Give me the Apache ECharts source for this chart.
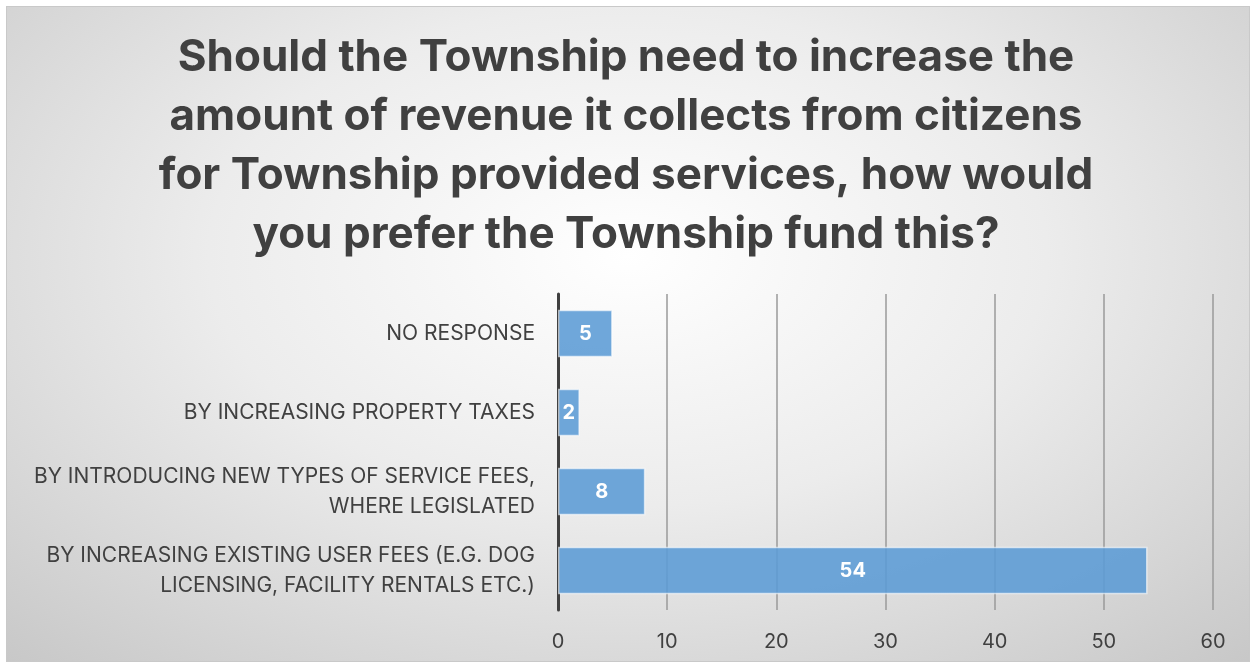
<!DOCTYPE html>
<html><head><meta charset="utf-8">
<script src="https://cdn.jsdelivr.net/npm/echarts@6/dist/echarts.min.js"></script>
<style>
html,body{margin:0;padding:0;background:#fff;}
#frame{position:absolute;left:6px;top:6px;width:1242px;height:654px;border:1px solid #c9c9c9;
background:radial-gradient(ellipse 75% 85% at 50% 38%, #ffffff 0%, #ececec 45%, #c7c7c7 100%);}
#chart{position:absolute;left:0;top:0;width:1252px;height:667px;}
</style></head>
<body>
<div id="frame"></div>
<div id="chart"></div>
<script>
const titleText = "Should the Township need to increase the\namount of revenue it collects from citizens\nfor Township provided services, how would\nyou prefer the Township fund this?";
const categories = [
  "NO RESPONSE",
  "BY INCREASING PROPERTY TAXES",
  "BY INTRODUCING NEW TYPES OF SERVICE FEES,\nWHERE LEGISLATED",
  "BY INCREASING EXISTING USER FEES (E.G. DOG\nLICENSING, FACILITY RENTALS ETC.)"
];
const values = [5, 2, 8, 54];
const xTicks = {min: 0, max: 60, interval: 10};

const chart = echarts.init(document.getElementById('chart'), null, {renderer: 'canvas'});
chart.setOption({
  backgroundColor: 'transparent',
  animation: false,
  title: {
    text: titleText,
    left: 'center',
    top: 23,
    textStyle: {fontFamily: 'Inter', fontWeight: 'bold', fontSize: 44, lineHeight: 59, color: '#404040'}
  },
  grid: {left: 558, right: 39, top: 294, bottom: 57, containLabel: false},
  xAxis: {
    type: 'value', min: xTicks.min, max: xTicks.max, interval: xTicks.interval,
    axisLine: {show: false}, axisTick: {show: false},
    axisLabel: {color: '#404040', fontSize: 20, fontFamily: 'Inter', margin: 22},
    splitLine: {show: true, lineStyle: {color: '#9a9a9a', width: 1.5}}
  },
  yAxis: {
    type: 'category', data: categories, inverse: true,
    axisLine: {show: true, lineStyle: {color: '#404040', width: 3}},
    axisTick: {show: false},
    axisLabel: {color: '#404040', fontSize: 21, fontFamily: 'Inter', lineHeight: 30, margin: 23, align: 'right'}
  },
  series: [{
    type: 'bar', data: values, barWidth: '60%',
    itemStyle: {color: 'rgba(91,155,213,0.88)', borderColor: 'rgba(255,255,255,0.6)', borderWidth: 1.5},
    label: {show: true, position: 'inside', color: '#fff', fontWeight: 'bold', fontSize: 20, fontFamily: 'Inter'}
  }]
});
</script>
</body></html>
